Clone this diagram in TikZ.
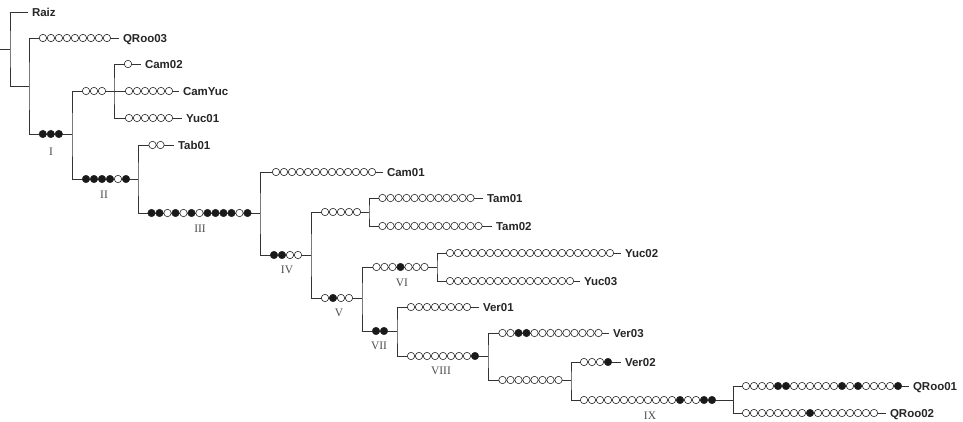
\documentclass[tikz,border=0pt]{standalone}
\usepackage{fontspec}
\setmainfont{Liberation Serif}
\setsansfont{Liberation Sans}
\colorlet{mo}{white}
\colorlet{mf}{black!90}
\tikzset{
  ln/.style={line width=0.8pt, draw=black!80},
  mut/.style={circle, draw=black!85, line width=0.6pt, minimum size=7.4pt, inner sep=0pt, fill=#1},
  lab/.style={anchor=west, font=\sffamily\bfseries\fontsize{11.5}{12}\selectfont, text=black!85,
              inner xsep=4.5pt, inner ysep=0pt, text height=8.2pt, text depth=0pt, outer sep=0pt},
  num/.style={font=\fontsize{11.5}{12}\selectfont, text=black!70, inner sep=0pt},
}
\newcommand\mutrow[4]{\foreach \t [count=\i from 0] in {#4} {\node[mut=\t] (#1-\i) at ({#2+8*\i},#3) {};}}
\begin{document}
\begin{tikzpicture}[x=1pt,y=-1pt]
\useasboundingbox (0,0) rectangle (963,422);
% junctions
\coordinate (root) at (0,49);
\coordinate (n0) at (10,49);
\coordinate (n1) at (29,86);
\coordinate (n2) at (72,134);
\coordinate (n3) at (114,91);
\coordinate (n4) at (138,179);
\coordinate (n5) at (260,213);
\coordinate (n6) at (311,255);
\coordinate (n7) at (369,212);
\coordinate (n8) at (362,298);
\coordinate (n9) at (437,267);
\coordinate (n10) at (397,331);
\coordinate (n11) at (488,356);
\coordinate (n12) at (571,380);
\coordinate (n13) at (733,400);
% labels
\node[lab] (Raiz)   at (27.5,12)  {Raiz};
\node[lab] (QRoo03) at (118.5,38) {QRoo03};
\node[lab] (Cam02)  at (140.5,64) {Cam02};
\node[lab] (CamYuc) at (178.5,91) {CamYuc};
\node[lab] (Yuc01)  at (181.5,118) {Yuc01};
\node[lab] (Tab01)  at (173.5,145) {Tab01};
\node[lab] (Cam01)  at (382.5,172) {Cam01};
\node[lab] (Tam01)  at (482.5,198) {Tam01};
\node[lab] (Tam02)  at (491.5,226) {Tam02};
\node[lab] (Yuc02)  at (620.5,253) {Yuc02};
\node[lab] (Yuc03)  at (579.5,281) {Yuc03};
\node[lab] (Ver01)  at (478.5,307) {Ver01};
\node[lab] (Ver03)  at (608.5,333) {Ver03};
\node[lab] (Ver02)  at (620.5,362) {Ver02};
\node[lab] (QRoo01) at (908.5,386) {QRoo01};
\node[lab] (QRoo02) at (885.5,413) {QRoo02};
% clade numerals
\node[num] (nI)    at (51,152)  {I};
\node[num] (nII)   at (104,195) {II};
\node[num] (nIII)  at (200,229) {III};
\node[num] (nIV)   at (287,270) {IV};
\node[num] (nV)    at (339,313) {V};
\node[num] (nVI)   at (402,283) {VI};
\node[num] (nVII)  at (379,346) {VII};
\node[num] (nVIII) at (441,371) {VIII};
\node[num] (nIX)   at (650,416) {IX};
% tree lines
\draw[ln] (root) -- (n0);
\draw[ln] (Raiz.west) -| (n0) |- (n1);
\draw[ln] (QRoo03.west) -| (n1) |- (n2);
\draw[ln] (n3) -| (n2) |- (n4);
\draw[ln] (Cam02.west) -| (n3) |- (Yuc01.west);
\draw[ln] (n3) -- (CamYuc.west);
\draw[ln] (Tab01.west) -| (n4) |- (n5);
\draw[ln] (Cam01.west) -| (n5) |- (n6);
\draw[ln] (n7) -| (n6) |- (n8);
\draw[ln] (Tam01.west) -| (n7) |- (Tam02.west);
\draw[ln] (n9) -| (n8) |- (n10);
\draw[ln] (Yuc02.west) -| (n9) |- (Yuc03.west);
\draw[ln] (Ver01.west) -| (n10) |- (n11);
\draw[ln] (Ver03.west) -| (n11) |- (n12);
\draw[ln] (Ver02.west) -| (n12) |- (n13);
\draw[ln] (QRoo01.west) -| (n13) |- (QRoo02.west);
% mutation circles
\mutrow{mq3}{42.9}{38}{mo,mo,mo,mo,mo,mo,mo,mo,mo}
\mutrow{mI}{42.8}{134}{mf,mf,mf}
\mutrow{mu}{86}{91}{mo,mo,mo}
\mutrow{mc2}{128}{64}{mo}
\mutrow{mcy}{129}{91}{mo,mo,mo,mo,mo,mo}
\mutrow{my1}{129}{118}{mo,mo,mo,mo,mo,mo}
\mutrow{mII}{86}{179}{mf,mf,mf,mf,mo,mf}
\mutrow{mt}{152.5}{145}{mo,mo}
\mutrow{mIII}{151.5}{213}{mf,mf,mo,mf,mo,mf,mo,mf,mf,mf,mf,mo,mf}
\mutrow{mc1}{276}{172}{mo,mo,mo,mo,mo,mo,mo,mo,mo,mo,mo,mo,mo}
\mutrow{mIV}{274}{255}{mf,mf,mo,mo}
\mutrow{mts}{325}{212}{mo,mo,mo,mo,mo}
\mutrow{mt1}{382.5}{198}{mo,mo,mo,mo,mo,mo,mo,mo,mo,mo,mo,mo}
\mutrow{mt2}{382.5}{226}{mo,mo,mo,mo,mo,mo,mo,mo,mo,mo,mo,mo,mo}
\mutrow{mV}{325}{298}{mo,mf,mo,mo}
\mutrow{mVI}{376.5}{267}{mo,mo,mo,mf,mo,mo,mo}
\mutrow{my2}{450}{253}{mo,mo,mo,mo,mo,mo,mo,mo,mo,mo,mo,mo,mo,mo,mo,mo,mo,mo,mo,mo,mo}
\mutrow{my3}{450}{281}{mo,mo,mo,mo,mo,mo,mo,mo,mo,mo,mo,mo,mo,mo,mo,mo}
\mutrow{mVII}{376}{331}{mf,mf}
\mutrow{mv1}{411}{307}{mo,mo,mo,mo,mo,mo,mo,mo}
\mutrow{mVIII}{411}{356}{mo,mo,mo,mo,mo,mo,mo,mo,mf}
\mutrow{mv3}{502.5}{333}{mo,mo,mf,mf,mo,mo,mo,mo,mo,mo,mo,mo,mo}
\mutrow{mlo}{502.5}{380}{mo,mo,mo,mo,mo,mo,mo,mo}
\mutrow{mv2}{584}{362}{mo,mo,mo,mf}
\mutrow{mIX}{584}{400}{mo,mo,mo,mo,mo,mo,mo,mo,mo,mo,mo,mo,mf,mo,mo,mf,mf}
\mutrow{mq1}{746}{386}{mo,mo,mo,mo,mf,mf,mo,mo,mo,mo,mo,mo,mf,mo,mf,mo,mo,mo,mo,mf}
\mutrow{mq2}{746}{413}{mo,mo,mo,mo,mo,mo,mo,mo,mf,mo,mo,mo,mo,mo,mo,mo,mo}
\end{tikzpicture}
\end{document}
